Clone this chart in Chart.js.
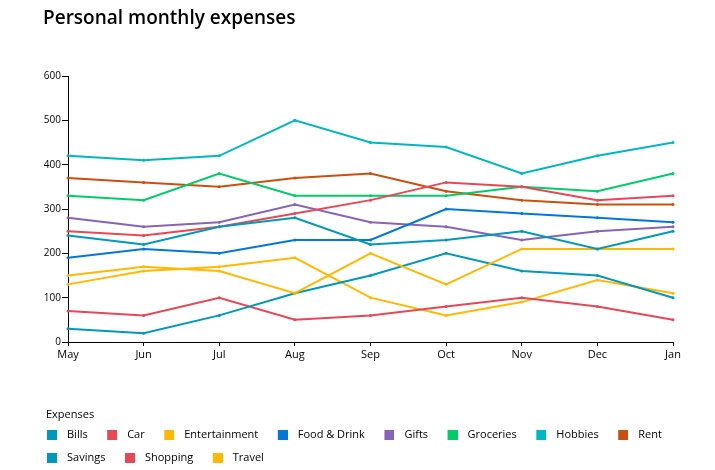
<!DOCTYPE html>
<html><head><meta charset="utf-8">
<script src="https://cdn.jsdelivr.net/npm/chart.js@4.4.1/dist/chart.umd.min.js"></script>
<style>
html,body{margin:0;padding:0;background:#fff;overflow:hidden;width:715px;height:470px;}
#wrap{position:absolute;left:0;top:0;width:715px;height:480px;}
#title{position:absolute;left:43px;top:4px;font:600 19px "Open Sans";color:#000;white-space:nowrap;}
#ltitle{position:absolute;left:46px;top:406px;font:11px "Open Sans";color:#000;white-space:nowrap;}
</style></head><body>
<div id="wrap"><canvas id="c"></canvas></div>
<div id="title">Personal monthly expenses</div>
<div id="ltitle">Expenses</div>
<script>
const months = ['May','Jun','Jul','Aug','Sep','Oct','Nov','Dec','Jan'];
const seriesNames = ['Bills','Car','Entertainment','Food & Drink','Gifts','Groceries','Hobbies','Rent','Savings','Shopping','Travel'];
const bills = [240,220,260,280,220,230,250,210,250];
const car = [250,240,260,290,320,360,350,320,330];
const entertainment = [150,170,160,110,200,130,210,210,210];
const foodDrink = [190,210,200,230,230,300,290,280,270];
const gifts = [280,260,270,310,270,260,230,250,260];
const groceries = [330,320,380,330,330,330,350,340,380];
const hobbies = [420,410,420,500,450,440,380,420,450];
const rent = [370,360,350,370,380,340,320,310,310];
const savings = [30,20,60,110,150,200,160,150,100];
const shopping = [70,60,100,50,60,80,100,80,50];
const travel = [130,160,170,190,100,60,90,140,110];
const yTicks = [0,100,200,300,400,500,600];

const seriesValues = [bills,car,entertainment,foodDrink,gifts,groceries,hobbies,rent,savings,shopping,travel];
const seriesColors = ['#0099BC','#E74856','#FFB900','#0078D7','#8764B8','#00CC6A','#00B7C3','#CA5010','#0099BC','#E74856','#FFB900'];

const FONT = '"Open Sans", "Noto Sans", sans-serif';

function swatch(color){
  const c = document.createElement('canvas');
  c.width = 13; c.height = 10;
  const g = c.getContext('2d');
  g.fillStyle = color;
  g.fillRect(3,0,10,10);
  return c;
}
const swatches = seriesColors.map(swatch);
const baseGen = Chart.defaults.plugins.legend.labels.generateLabels;

const datasets = seriesNames.map((n,i)=>({
  label:n,
  data:seriesValues[i],
  borderColor:seriesColors[i],
  backgroundColor:seriesColors[i],
  pointBackgroundColor:seriesColors[i],
  pointBorderWidth:0,
  pointRadius:1.5,
  borderWidth:2,
  tension:0,
  fill:false
}));

new Chart(document.getElementById('c'), {
  type:'line',
  data:{labels:months, datasets},
  options:{
    responsive:true, maintainAspectRatio:false, animation:false,
    layout:{padding:{left:27.5,right:20,top:76,bottom:6.5}},
    plugins:{
      title:{display:false},
      tooltip:{enabled:false},
      legend:{
        position:'bottom', align:'start',
        title:{display:true, text:'', font:{size:11,family:FONT}, padding:{top:41.1,bottom:0}},
        labels:{
          usePointStyle:true, pointStyleWidth:22, boxHeight:11, padding:12,
          color:'#000', font:{size:11,family:FONT},
          generateLabels(chart){
            return baseGen(chart).map((it)=>{ it.pointStyle = swatches[it.datasetIndex]; it.fontColor='#000'; return it; });
          }
        }
      }
    },
    scales:{
      x:{
        grid:{drawOnChartArea:false, drawTicks:true, tickLength:4, color:'#000'},
        border:{display:true,color:'#000',width:1},
        ticks:{color:'#000', font:{size:11,family:FONT}, padding:2, maxRotation:0, autoSkip:false},
        afterFit(s){ s.paddingRight = 42; }
      },
      y:{
        min:0, max:600,
        afterBuildTicks(s){ s.ticks = yTicks.map(v=>({value:v})); },
        ticks:{color:'#000', font:{size:10,family:FONT}, padding:1},
        grid:{drawOnChartArea:false, drawTicks:true, tickLength:6, color:'#000'},
        border:{display:true,color:'#000',width:1},
        afterFit(s){ s.width = 40.5; }
      }
    }
  }
});
</script>
</body></html>
